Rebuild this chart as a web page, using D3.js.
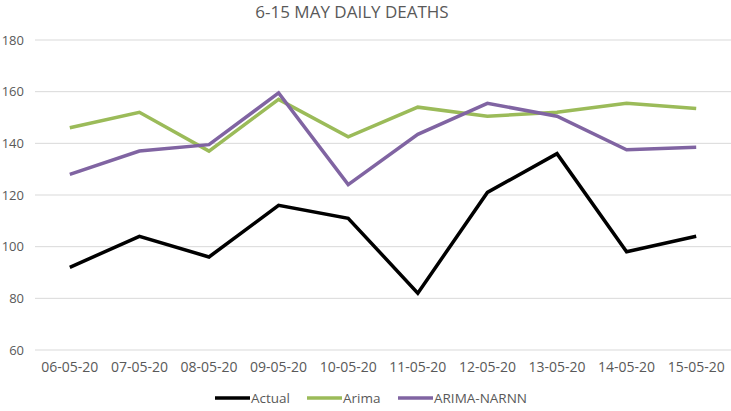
<!DOCTYPE html>
<html>
<head>
<meta charset="utf-8">
<script src="https://cdn.jsdelivr.net/npm/d3@7"></script>
<style>
  body { margin: 0; background: #fff; }
  text { font-family: "Open Sans", sans-serif; fill: #595959; }
</style>
</head>
<body>
<svg id="svg1" width="731" height="411"></svg>
<script>
var dates = ["06-05-20","07-05-20","08-05-20","09-05-20","10-05-20","11-05-20","12-05-20","13-05-20","14-05-20","15-05-20"];
var actual = [92, 104, 96, 116, 111, 82, 121, 136, 98, 104];
var arima = [146, 152, 137, 157, 142.5, 154, 150.5, 152, 155.5, 153.5];
var arimaNarnn = [128, 137, 139.5, 159.5, 124, 143.5, 155.5, 150.5, 137.5, 138.5];
var yTicks = [60, 80, 100, 120, 140, 160, 180];

var series = [
  {name: "Actual", values: actual, color: "#000000"},
  {name: "Arima", values: arima, color: "#9BBB59"},
  {name: "ARIMA-NARNN", values: arimaNarnn, color: "#8064A2"}
];

var svg = d3.select('svg');

var x = d3.scaleBand().domain(dates).range([35, 731]);
var y = d3.scaleLinear().domain([60, 180]).range([350, 40]);

// title
svg.append('text')
    .attr('x', 352).attr('y', 17.5)
    .attr('text-anchor', 'middle')
    .style('font-size', '17px')
    .text('6-15 MAY DAILY DEATHS');

// gridlines
svg.append('g').selectAll('line')
    .data(yTicks)
    .enter()
    .append('line')
    .attr('x1', 35).attr('x2', 731)
    .attr('y1', function(d){ return y(d); })
    .attr('y2', function(d){ return y(d); })
    .attr('stroke', '#d9d9d9')
    .attr('stroke-width', 1);

// y axis labels
var yAxis = d3.axisLeft(y).tickValues(yTicks).tickSize(0).tickPadding(0);
var gy = svg.append('g').attr('transform', 'translate(24,0)').call(yAxis);
gy.select('.domain').remove();
gy.selectAll('text').style('font-size', '13px').attr('fill', '#595959');

// x axis labels
var xAxis = d3.axisBottom(x).tickSize(0).tickPadding(0);
var gx = svg.append('g').attr('transform', 'translate(0,362)').call(xAxis);
gx.select('.domain').remove();
gx.selectAll('text').style('font-size', '14px').attr('fill', '#595959');

// lines
var line = d3.line()
    .x(function(d, i){ return x(dates[i]) + x.bandwidth()/2; })
    .y(function(d){ return y(d); });

svg.selectAll('path.series')
    .data(series)
    .enter()
    .append('path')
    .attr('class', 'series')
    .attr('d', function(d){ return line(d.values); })
    .attr('fill', 'none')
    .attr('stroke', function(d){ return d.color; })
    .attr('stroke-width', 3.5)
    .attr('stroke-linejoin', 'miter');

// legend
var legendX = [215, 307, 398];
var legend = svg.selectAll('g.legend')
    .data(series)
    .enter()
    .append('g')
    .attr('class', 'legend')
    .attr('transform', function(d, i){ return 'translate(' + legendX[i] + ',398)'; });

legend.append('line')
    .attr('x1', 0).attr('x2', 35)
    .attr('stroke', function(d){ return d.color; })
    .attr('stroke-width', 3.5);

legend.append('text')
    .attr('x', 36).attr('y', 5)
    .style('font-size', '13.5px')
    .text(function(d){ return d.name; });
</script>
</body>
</html>
